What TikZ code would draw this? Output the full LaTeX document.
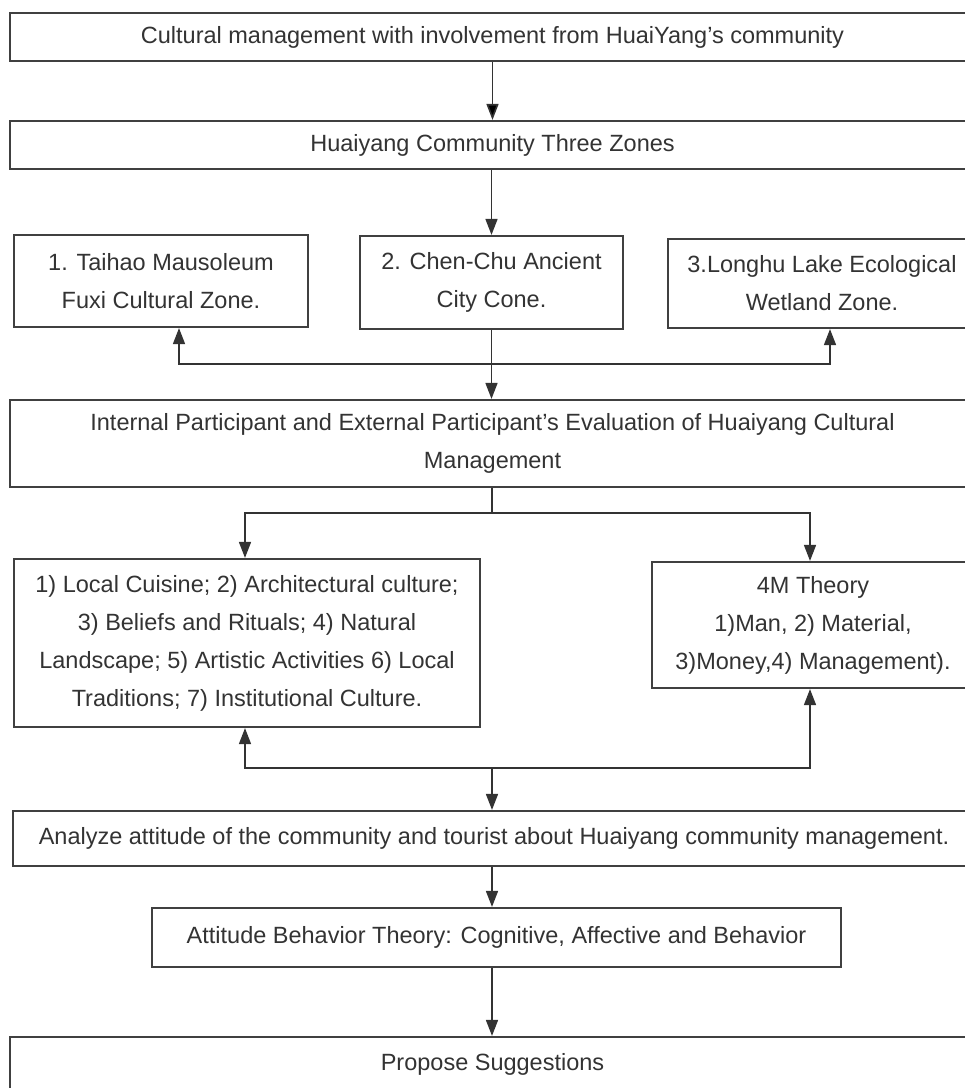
\documentclass[tikz,border=0pt]{standalone}
\usepackage{fontspec}
\setmainfont{Liberation Sans}
\usetikzlibrary{arrows.meta}

\begin{document}
\begin{tikzpicture}[x=1pt,y=-1pt,
  box/.style={draw=black!75,line width=2.2pt,text=black!80,align=center,inner sep=0pt,
    font=\fontsize{23.5}{38}\selectfont},
  arr/.style={draw=black!80,line width=1.6pt,-{Triangle[length=16pt,width=12pt]}},
  ln/.style={draw=black!80,line width=1.6pt}]
\clip (0,0) rectangle (965,1088);
\fill[white] (0,0) rectangle (965,1088);

% header boxes
\node[box,minimum width=965pt,minimum height=48pt] (top) at (492.5,37) {Cultural management with involvement from HuaiYang's community};
\node[box,minimum width=965pt,minimum height=48pt] (zones) at (492.5,145) {Huaiyang Community Three Zones};

% the three zones
\node[box,minimum width=294pt,minimum height=92pt] (taihao) at (161,281) {1. Taihao Mausoleum\\Fuxi Cultural Zone.};
\node[box,minimum width=263pt,minimum height=93pt] (chenchu) at (491.5,282.5) {2. Chen-Chu Ancient\\City Cone.};
\node[box,minimum width=308pt,minimum height=89pt] (longhu) at (822,283.5) {3.Longhu Lake Ecological\\Wetland Zone.};

\node[box,minimum width=965pt,minimum height=87pt] (evaluation) at (492.5,443.5) {Internal Participant and External Participant's Evaluation of Huaiyang Cultural\\Management};

\node[box,minimum width=466pt,minimum height=168pt] (elements) at (247,643) {1) Local Cuisine; 2) Architectural culture;\\3) Beliefs and Rituals; 4) Natural\\Landscape; 5) Artistic Activities 6) Local\\Traditions; 7) Institutional Culture.};
\node[box,minimum width=322pt,minimum height=126pt] (fourm) at (813,625) {4M Theory\\1)Man, 2) Material,\\3)Money,4) Management).};

\node[box,minimum width=962pt,minimum height=55pt] (analyze) at (494,838.5) {Analyze attitude of the community and tourist about Huaiyang community management.};
\node[box,minimum width=689pt,minimum height=59pt] (abc) at (496.5,937.5) {Attitude Behavior Theory: Cognitive, Affective and Behavior};
\node[box,minimum width=965pt,minimum height=55pt] (propose) at (492.5,1064.5) {Propose Suggestions};

% junctions
\coordinate (j1) at (491.5,364);
\coordinate (j2) at (492,513);
\coordinate (j3) at (492,768);

\path [arr] (top) edge (zones);
\draw [arr] (zones.south -| chenchu.north) -- (chenchu.north);
\draw [ln] (chenchu.south) -- (j1);
\draw [arr] (j1) -| ([xshift=18pt]taihao.south);
\draw [arr] (j1) -| ([xshift=8pt]longhu.south);
\draw [arr] (j1) -- (j1 |- evaluation.north);
\draw [ln] (evaluation.south -| j2) -- (j2);
\draw [arr] (j2) -| ([xshift=-2pt]elements.north);
\draw [arr] (j2) -| ([xshift=-3pt]fourm.north);
\draw [arr] (j3) -| ([xshift=-2pt]elements.south);
\draw [arr] (j3) -| ([xshift=-3pt]fourm.south);
\draw [arr] (j3) -- (j3 |- analyze.north);
\draw [arr] (analyze.south -| j3) -- (j3 |- abc.north);
\draw [arr] (abc.south -| j3) -- (j3 |- propose.north);
\end{tikzpicture}
\end{document}
